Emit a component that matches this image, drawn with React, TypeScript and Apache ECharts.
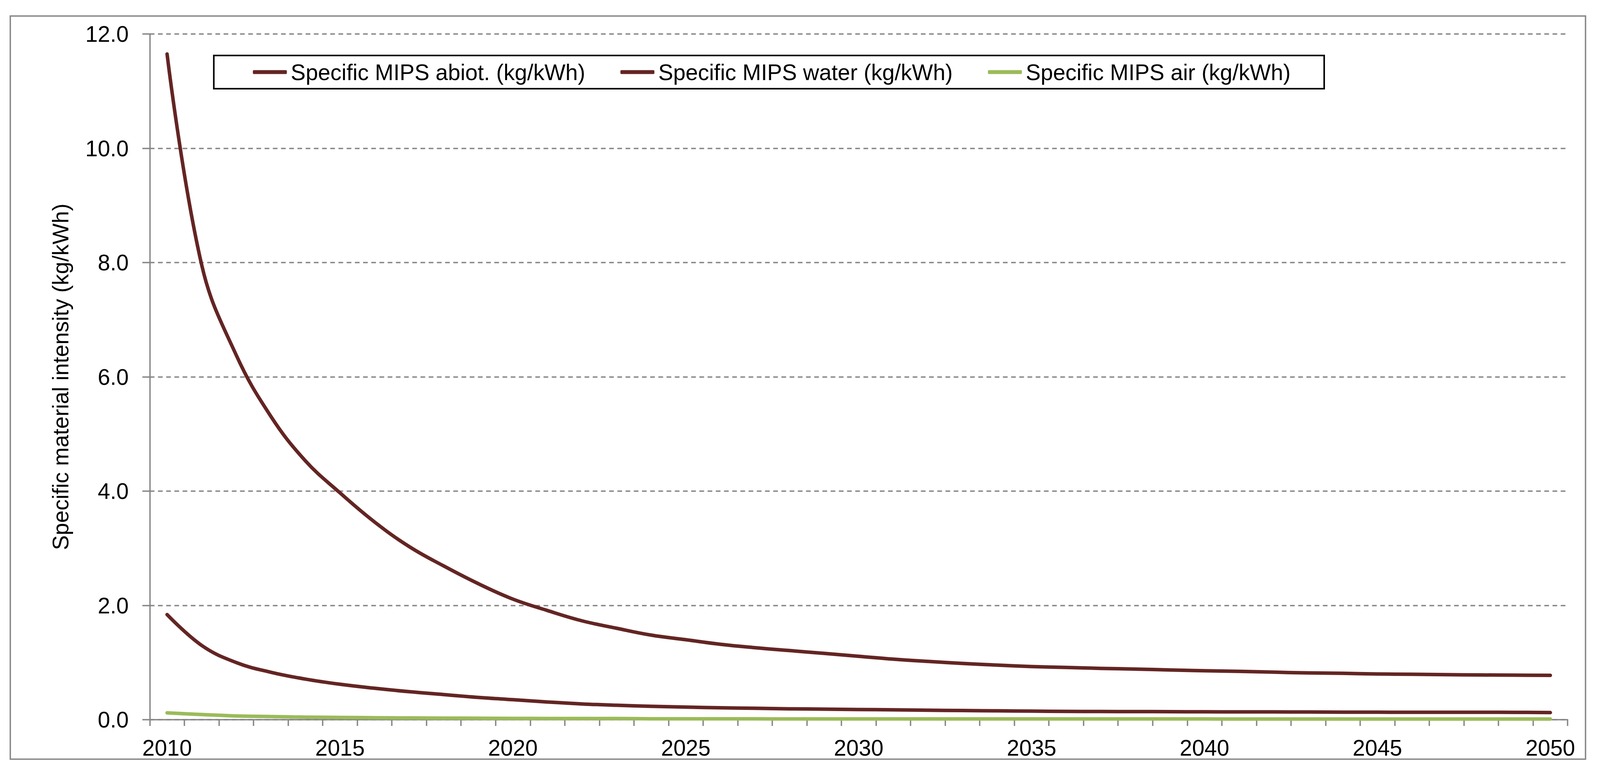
import React, { useEffect, useRef } from "react";
import * as echarts from "echarts";

const years: string[] = [];
for (let y = 2010; y <= 2050; y++) years.push(String(y));

const abiot = [
  11.65, 7.96, 6.38, 5.31, 4.53, 3.97, 3.46, 3.03, 2.69, 2.38, 2.11,
  1.91, 1.73, 1.6, 1.48, 1.4, 1.32, 1.26, 1.21, 1.16, 1.11,
  1.06, 1.02, 0.985, 0.955, 0.93, 0.914, 0.898, 0.886, 0.87, 0.857,
  0.846, 0.832, 0.818, 0.812, 0.8, 0.795, 0.788, 0.783, 0.779, 0.776,
];

const water = [
  1.84, 1.3, 1.0, 0.83, 0.71, 0.62, 0.55, 0.49, 0.44, 0.39, 0.35,
  0.31, 0.276, 0.253, 0.235, 0.22, 0.208, 0.2, 0.19, 0.185, 0.178,
  0.173, 0.166, 0.16, 0.155, 0.15, 0.145, 0.143, 0.142, 0.14, 0.138,
  0.137, 0.136, 0.135, 0.132, 0.131, 0.13, 0.13, 0.13, 0.129, 0.124,
];

const air = [
  0.12, 0.09, 0.065, 0.055, 0.045, 0.04, 0.035, 0.03, 0.028, 0.025, 0.023,
  0.021, 0.02, 0.02, 0.016, 0.015, 0.015, 0.015, 0.014, 0.014, 0.014,
  0.014, 0.014, 0.014, 0.014, 0.014, 0.014, 0.013, 0.013, 0.013, 0.013,
  0.012, 0.012, 0.012, 0.012, 0.012, 0.012, 0.012, 0.012, 0.012, 0.012,
];

const seriesNames = [
  "Specific MIPS abiot. (kg/kWh)",
  "Specific MIPS water (kg/kWh)",
  "Specific MIPS air (kg/kWh)",
];
const yAxisName = "Specific material intensity (kg/kWh)";

const FONT = "'Liberation Sans', Arial, sans-serif";
const GRAY = "#868686";
const MAROON = "#632523";
const GREEN = "#9BBB59";
const REF_W = 4198;

export default function App() {
  const ref = useRef<HTMLDivElement>(null);
  useEffect(() => {
    if (!ref.current) return;
    const W = ref.current.clientWidth || 4096;
    const sx = Math.min(1, W / REF_W);
    const chart = echarts.init(ref.current, undefined, { renderer: "svg" });
    const lineSeries = (name: string, data: number[], color: string) => ({
      name,
      type: "line",
      data,
      smooth: 0.4,
      symbol: "none",
      color,
      lineStyle: { width: 9, color, cap: "round", join: "round" },
    });
    chart.setOption({
      animation: false,
      backgroundColor: "#ffffff",
      textStyle: { fontFamily: FONT },
      graphic: [
        {
          type: "rect",
          z: -1,
          shape: { x: 27 * sx, y: 41, width: 4133 * sx, height: 1902 },
          style: { fill: "none", stroke: GRAY, lineWidth: 3.5 },
        },
      ],
      grid: {
        left: 393 * sx,
        right: 85 * sx,
        top: 87,
        bottom: 139,
        containLabel: false,
      },
      legend: {
        left: 561 * sx,
        top: 142,
        orient: "horizontal",
        padding: [14, 86, 14, 100],
        itemGap: 90,
        itemWidth: 87,
        itemHeight: 10,
        icon: "roundRect",
        borderColor: "#000000",
        borderWidth: 4,
        textStyle: {
          fontSize: 57,
          fontFamily: FONT,
          color: "#000000",
          padding: [0, 0, 0, 5],
        },
        data: seriesNames,
      },
      xAxis: {
        type: "category",
        data: years,
        boundaryGap: true,
        axisLine: { show: true, lineStyle: { color: GRAY, width: 3.5 } },
        axisTick: {
          show: true,
          interval: 0,
          length: 16,
          lineStyle: { color: GRAY, width: 3.5 },
        },
        axisLabel: {
          interval: 4,
          margin: 43,
          fontSize: 57,
          fontFamily: FONT,
          color: "#000000",
        },
        splitLine: { show: false },
      },
      yAxis: {
        type: "value",
        min: 0,
        max: 12,
        interval: 2,
        name: yAxisName,
        nameLocation: "middle",
        nameRotate: 90,
        nameGap: 200,
        nameTextStyle: { fontSize: 57, fontFamily: FONT, color: "#000000" },
        axisLine: { show: true, lineStyle: { color: GRAY, width: 3.5 } },
        axisTick: {
          show: true,
          length: 19,
          lineStyle: { color: GRAY, width: 3.5 },
        },
        axisLabel: {
          margin: 54,
          fontSize: 57,
          fontFamily: FONT,
          color: "#000000",
          formatter: (v: number) => v.toFixed(1),
        },
        splitLine: {
          show: true,
          lineStyle: { color: GRAY, width: 3.5, type: [12, 9] },
        },
      },
      series: [
        lineSeries(seriesNames[0], abiot, MAROON),
        lineSeries(seriesNames[1], water, MAROON),
        lineSeries(seriesNames[2], air, GREEN),
      ],
    });
    return () => chart.dispose();
  }, []);
  return (
    <div
      ref={ref}
      style={{ position: "absolute", left: 0, top: 0, width: "100%", height: 1981 }}
    />
  );
}
